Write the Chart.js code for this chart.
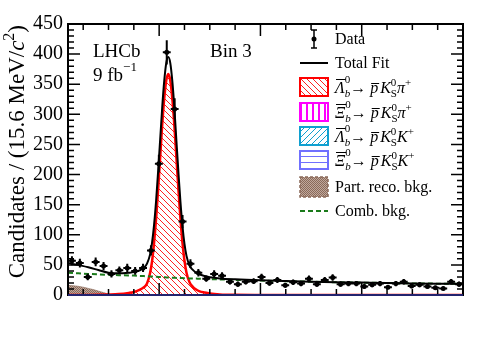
<!DOCTYPE html>
<html>
<head>
    <title>Bin 3 mass fit</title>
    <script src="https://cdn.jsdelivr.net/npm/chart.js@4.4.5/dist/chart.umd.min.js"></script>
    <style>
        body { margin: 0; background: #fff; }
    </style>
</head>
<body>
    <canvas id="fitChart" width="488" height="351"></canvas>

    <script>
        // Data: bin centres (MeV/c^2, 50 bins of 15.6 MeV) and candidates per bin
        const binCentres = [5427.8, 5443.4, 5459.0, 5474.6, 5490.2, 5505.8, 5521.4, 5537.0, 5552.6, 5568.2,
            5583.8, 5599.4, 5615.0, 5630.6, 5646.2, 5661.8, 5677.4, 5693.0, 5708.6, 5724.2,
            5739.8, 5755.4, 5771.0, 5786.6, 5802.2, 5817.8, 5833.4, 5849.0, 5864.6, 5880.2,
            5895.8, 5911.4, 5927.0, 5942.6, 5958.2, 5973.8, 5989.4, 6005.0, 6020.6, 6036.2,
            6051.8, 6067.4, 6083.0, 6098.6, 6114.2, 6129.8, 6145.4, 6161.0, 6176.6, 6192.2];
        const candidates = [57, 53, 30, 55, 48, 35, 41, 45, 40, 45,
            74, 218, 403, 309, 122, 52, 37, 27, 35, 32,
            22, 18, 22, 23, 30, 20, 25, 16, 21, 19,
            27, 18, 25, 29, 18, 19, 19, 14, 17, 19,
            13, 19, 22, 15, 17, 14, 12, 11, 22, 18];

        // Fit curves
        const curveMass = [5420, 5440, 5460, 5480, 5500, 5520, 5540, 5550, 5560, 5570,
            5576, 5582, 5586, 5590, 5594, 5598, 5602, 5606, 5610, 5614,
            5618, 5622, 5626, 5630, 5634, 5638, 5642, 5646, 5650, 5654,
            5660, 5666, 5673, 5680, 5690, 5700, 5720, 5750, 5800, 5850,
            5900, 5950, 6000, 6050, 6100, 6150, 6200];
        const totalFit = [53, 50, 46, 41.5, 37, 36, 37, 38, 40.5, 45,
            52, 67, 87, 117, 157, 206, 258, 311, 355, 385,
            395, 385, 355, 311, 257, 204, 155, 115, 85, 65,
            49, 42, 37, 34, 31.5, 29.5, 27.5, 26, 24.3, 23.1,
            22.1, 21.3, 20.6, 19.9, 19.3, 18.8, 18.4];
        const signalPi = [0, 0, 0.1, 0.3, 0.8, 1.6, 3.5, 5, 8, 13,
            19, 36, 56, 87, 127, 176, 229, 282, 326, 356,
            367, 356, 326, 282, 229, 176, 127, 87, 57, 37,
            21, 14, 9, 6, 4, 2.5, 1, 0.3, 0.1, 0,
            0, 0, 0, 0, 0, 0, 0];
        const combBkg = [37, 36, 35, 34.2, 33.5, 33, 32.5, 32.2, 31.8, 31.4,
            31.1, 30.8, 30.6, 30.4, 30.2, 30, 29.8, 29.6, 29.4, 29.2,
            29, 28.8, 28.7, 28.6, 28.4, 28.3, 28.2, 28.1, 27.9, 27.8,
            27.6, 27.4, 27.2, 27, 26.7, 26.4, 25.9, 25.1, 23.9, 22.9,
            22, 21.2, 20.5, 19.9, 19.3, 18.8, 18.4];
        const partRecoMass = [5420, 5430, 5440, 5450, 5460, 5470, 5480, 5490, 5500, 5510];
        const partReco = [16, 15.5, 14.5, 13, 11, 9, 6.5, 4, 1.5, 0];

        const serif = '"Liberation Serif", "DejaVu Serif", serif';

        function pts(xs, ys) {
            return xs.map((x, i) => ({ x: x, y: ys[i] }));
        }

        // fill patterns
        function makePattern(kind, color, bg) {
            const c = document.createElement('canvas');
            const s = kind === 'stipple' ? 2 : 6;
            c.width = s; c.height = s;
            const g = c.getContext('2d');
            if (bg) { g.fillStyle = bg; g.fillRect(0, 0, s, s); }
            g.strokeStyle = color; g.fillStyle = color; g.lineWidth = 1;
            g.beginPath();
            if (kind === 'back') {
                g.moveTo(-1, -1); g.lineTo(s + 1, s + 1);
                g.moveTo(-1, s - 1); g.lineTo(1, s + 1);
                g.moveTo(s - 1, -1); g.lineTo(s + 1, 1);
                g.stroke();
            } else if (kind === 'fwd') {
                g.moveTo(-1, s + 1); g.lineTo(s + 1, -1);
                g.moveTo(-1, 1); g.lineTo(1, -1);
                g.moveTo(s - 1, s + 1); g.lineTo(s + 1, s - 1);
                g.stroke();
            } else if (kind === 'vert') {
                g.fillRect(0, 0, 2, s);
            } else if (kind === 'horiz') {
                g.fillRect(0, 0, s, 1);
            } else if (kind === 'stipple') {
                g.fillRect(0, 0, 1, 1); g.fillRect(1, 1, 1, 1);
            }
            return document.getElementById('fitChart').getContext('2d').createPattern(c, 'repeat');
        }

        const redHatch = makePattern('back', '#ff2020');
        const magentaLines = makePattern('vert', '#ff00ff');
        const cyanHatch = makePattern('fwd', '#10a0d0');
        const blueLines = makePattern('horiz', '#7070ff');
        const brownStipple = makePattern('stipple', '#8a6a5a', '#c0a89c');

        // draw a run of text pieces (italic / sup / sub / overline)
        function drawRich(ctx, x, y, parts, size) {
            let cx = x;
            const small = Math.round(size * 0.68);
            parts.forEach(p => {
                if (p.sup !== undefined || p.sub !== undefined) {
                    ctx.font = (p.italic ? 'italic ' : '') + small + 'px ' + serif;
                    let w = 0;
                    if (p.sup !== undefined) {
                        ctx.fillText(p.sup, cx, y - size * 0.45 + (p.raise || 0));
                        w = Math.max(w, ctx.measureText(p.sup).width);
                    }
                    if (p.sub !== undefined) {
                        ctx.font = (p.subItalic ? 'italic ' : '') + small + 'px ' + serif;
                        ctx.fillText(p.sub, cx, y + size * 0.25);
                        w = Math.max(w, ctx.measureText(p.sub).width);
                    }
                    cx += w + (p.gap || 0);
                    return;
                }
                ctx.font = (p.italic ? 'italic ' : '') + size + 'px ' + serif;
                ctx.fillText(p.t, cx, y);
                const w = ctx.measureText(p.t).width;
                if (p.over) {
                    ctx.save();
                    ctx.lineWidth = 1;
                    ctx.strokeStyle = ctx.fillStyle;
                    ctx.beginPath();
                    ctx.moveTo(cx + 1, y - p.over);
                    ctx.lineTo(cx + w + 1, y - p.over);
                    ctx.stroke();
                    ctx.restore();
                }
                cx += w + (p.gap || 0);
            });
            return cx - x;
        }

        function richWidth(ctx, parts, size) {
            ctx.save();
            ctx.globalAlpha = 0;
            const w = drawRich(ctx, 0, 0, parts, size);
            ctx.restore();
            return w;
        }

        function decay(baryon, bachelor) {
            return [
                { t: baryon, italic: true, over: 13.5 },
                { sup: '0', sub: 'b', subItalic: true, raise: -3 },
                { t: '\u2192 ', gap: 0 },
                { t: 'p', italic: true, over: 9.5, gap: 2 },
                { t: 'K', italic: true },
                { sup: '0', sub: 'S' },
                { t: bachelor, italic: true },
                { sup: '+' }
            ];
        }

        // legend rows
        const legendLabels = ['Data', 'Total Fit', 'Part. reco. bkg.', 'Comb. bkg.'];

        const overlay = {
            id: 'overlay',
            afterDatasetsDraw(chart) {
                const { ctx, chartArea: a, scales: { x, y } } = chart;
                ctx.save();
                ctx.textAlign = 'left';
                ctx.textBaseline = 'alphabetic';

                // error bars on data
                ctx.strokeStyle = '#000';
                ctx.lineWidth = 2;
                ctx.beginPath();
                binCentres.forEach((m, i) => {
                    const n = candidates[i];
                    const e = Math.sqrt(n);
                    const px = x.getPixelForValue(m);
                    ctx.moveTo(px, y.getPixelForValue(n - e));
                    ctx.lineTo(px, y.getPixelForValue(n + e));
                    ctx.moveTo(x.getPixelForValue(m - 7.8), y.getPixelForValue(n));
                    ctx.lineTo(x.getPixelForValue(m + 7.8), y.getPixelForValue(n));
                });
                ctx.stroke();

                // ticks pointing inwards
                ctx.lineWidth = 1.5;
                ctx.beginPath();
                for (let v = 0; v <= 450; v += 10) {
                    const py = y.getPixelForValue(v);
                    const len = v % 50 === 0 ? 12 : 6;
                    ctx.moveTo(a.left, py); ctx.lineTo(a.left + len, py);
                    ctx.moveTo(a.right, py); ctx.lineTo(a.right - len, py);
                }
                for (let m = 5450; m < 6200; m += 50) {
                    const px = x.getPixelForValue(m);
                    const len = m % 200 === 0 ? 12 : 6;
                    ctx.moveTo(px, a.bottom); ctx.lineTo(px, a.bottom - len);
                    ctx.moveTo(px, a.top); ctx.lineTo(px, a.top + len);
                }
                ctx.stroke();

                // frame
                ctx.lineWidth = 2;
                ctx.strokeRect(a.left, a.top, a.right - a.left, a.bottom - a.top);
                ctx.strokeStyle = '#24246e';
                ctx.beginPath();
                ctx.moveTo(a.left, a.bottom); ctx.lineTo(a.right, a.bottom);
                ctx.stroke();

                // y axis title, right-aligned to the top of the frame
                ctx.fillStyle = '#000';
                const title = [
                    { t: 'Candidates / (15.6 MeV/' },
                    { t: 'c', italic: true },
                    { sup: '2' },
                    { t: ')' }
                ];
                const tw = richWidth(ctx, title, 23);
                ctx.save();
                ctx.translate(24, a.top + 1);
                ctx.rotate(-Math.PI / 2);
                drawRich(ctx, -tw, 0, title, 23);
                ctx.restore();

                // labels inside the frame
                ctx.font = '19px ' + serif;
                ctx.fillText('LHCb', 93, 57);
                drawRich(ctx, 93, 81, [{ t: '9 fb' }, { sup: '\u22121', raise: -1 }], 19);
                ctx.font = '19px ' + serif;
                ctx.fillText('Bin 3', 210, 57);

                // legend
                const lx = 300, lw = 28, tx = 335;
                const rowY = [39, 63, 87, 112, 136, 160, 187, 211];
                ctx.font = '16px ' + serif;
                // Data
                ctx.strokeStyle = '#000';
                ctx.lineWidth = 1.5;
                ctx.beginPath();
                ctx.moveTo(lx + 14, rowY[0] - 9); ctx.lineTo(lx + 14, rowY[0] + 9);
                ctx.moveTo(lx + 11, rowY[0] - 9); ctx.lineTo(lx + 17, rowY[0] - 9);
                ctx.moveTo(lx + 11, rowY[0] + 9); ctx.lineTo(lx + 17, rowY[0] + 9);
                ctx.stroke();
                ctx.beginPath();
                ctx.arc(lx + 14, rowY[0], 2.5, 0, Math.PI * 2);
                ctx.fill();
                ctx.fillText(legendLabels[0], tx, rowY[0] + 5);
                // Total fit
                ctx.lineWidth = 2;
                ctx.beginPath();
                ctx.moveTo(lx, rowY[1]); ctx.lineTo(lx + lw, rowY[1]);
                ctx.stroke();
                ctx.fillText(legendLabels[1], tx, rowY[1] + 5);
                // component boxes
                const boxes = [
                    { fill: redHatch, line: '#ff0000', text: decay('\u039b', '\u03c0') },
                    { fill: magentaLines, line: '#ff00ff', text: decay('\u039e', '\u03c0') },
                    { fill: cyanHatch, line: '#10a0d0', text: decay('\u039b', 'K') },
                    { fill: blueLines, line: '#7070ff', text: decay('\u039e', 'K') }
                ];
                boxes.forEach((b, i) => {
                    const cy = rowY[2 + i];
                    ctx.fillStyle = b.fill;
                    ctx.fillRect(lx, cy - 9, lw, 18);
                    ctx.strokeStyle = b.line;
                    ctx.lineWidth = 2;
                    ctx.strokeRect(lx, cy - 9, lw, 18);
                    ctx.fillStyle = '#000';
                    drawRich(ctx, tx, cy + 6, b.text, 16);
                });
                // part reco
                ctx.fillStyle = brownStipple;
                ctx.fillRect(lx, rowY[6] - 10, lw, 20);
                ctx.strokeStyle = '#8a6a5a';
                ctx.setLineDash([3, 2]);
                ctx.lineWidth = 1.5;
                ctx.strokeRect(lx, rowY[6] - 10, lw, 20);
                ctx.fillStyle = '#000';
                ctx.font = '16px ' + serif;
                ctx.fillText(legendLabels[2], tx, rowY[6] + 5);
                // comb bkg
                ctx.strokeStyle = '#1a7a1a';
                ctx.lineWidth = 2;
                ctx.setLineDash([5, 3]);
                ctx.beginPath();
                ctx.moveTo(lx, rowY[7]); ctx.lineTo(lx + lw, rowY[7]);
                ctx.stroke();
                ctx.setLineDash([]);
                ctx.fillText(legendLabels[3], tx, rowY[7] + 5);
                ctx.restore();
            }
        };

        new Chart(document.getElementById('fitChart'), {
            type: 'line',
            data: {
                datasets: [
                    {
                        label: 'Data',
                        data: pts(binCentres, candidates),
                        showLine: false,
                        pointRadius: 2.5,
                        pointBackgroundColor: '#000',
                        pointBorderWidth: 0,
                        order: 0
                    },
                    {
                        label: 'Total Fit',
                        data: pts(curveMass, totalFit),
                        borderColor: '#000',
                        borderWidth: 2,
                        pointRadius: 0,
                        cubicInterpolationMode: 'monotone',
                        fill: false,
                        order: 1
                    },
                    {
                        label: 'Comb. bkg.',
                        data: pts(curveMass, combBkg),
                        borderColor: '#1a7a1a',
                        borderWidth: 2,
                        borderDash: [5, 3],
                        pointRadius: 0,
                        cubicInterpolationMode: 'monotone',
                        fill: false,
                        order: 2
                    },
                    {
                        label: 'Lb -> p Ks pi',
                        data: pts(curveMass, signalPi),
                        borderColor: '#ff0000',
                        borderWidth: 2.5,
                        backgroundColor: redHatch,
                        pointRadius: 0,
                        cubicInterpolationMode: 'monotone',
                        fill: 'origin',
                        order: 3
                    },
                    {
                        label: 'Part. reco. bkg.',
                        data: pts(partRecoMass, partReco),
                        borderColor: 'rgba(138,106,90,0.6)',
                        borderWidth: 1,
                        backgroundColor: brownStipple,
                        pointRadius: 0,
                        cubicInterpolationMode: 'monotone',
                        fill: 'origin',
                        order: 4
                    }
                ]
            },
            options: {
                responsive: false,
                animation: false,
                layout: { padding: { left: 0, right: 25, top: 24, bottom: 56 } },
                plugins: {
                    legend: { display: false },
                    tooltip: { enabled: false }
                },
                scales: {
                    x: {
                        type: 'linear',
                        min: 5420,
                        max: 6200,
                        ticks: { display: false },
                        grid: { display: false, drawTicks: false },
                        border: { display: false },
                        afterFit: s => { s.height = 0; }
                    },
                    y: {
                        min: 0,
                        max: 450,
                        ticks: {
                            stepSize: 50,
                            color: '#000',
                            padding: 5,
                            font: { family: serif, size: 20 }
                        },
                        grid: { display: false, drawTicks: false },
                        border: { display: false },
                        afterFit: s => { s.width = 68; }
                    }
                }
            },
            plugins: [overlay]
        });
    </script>
</body>
</html>
